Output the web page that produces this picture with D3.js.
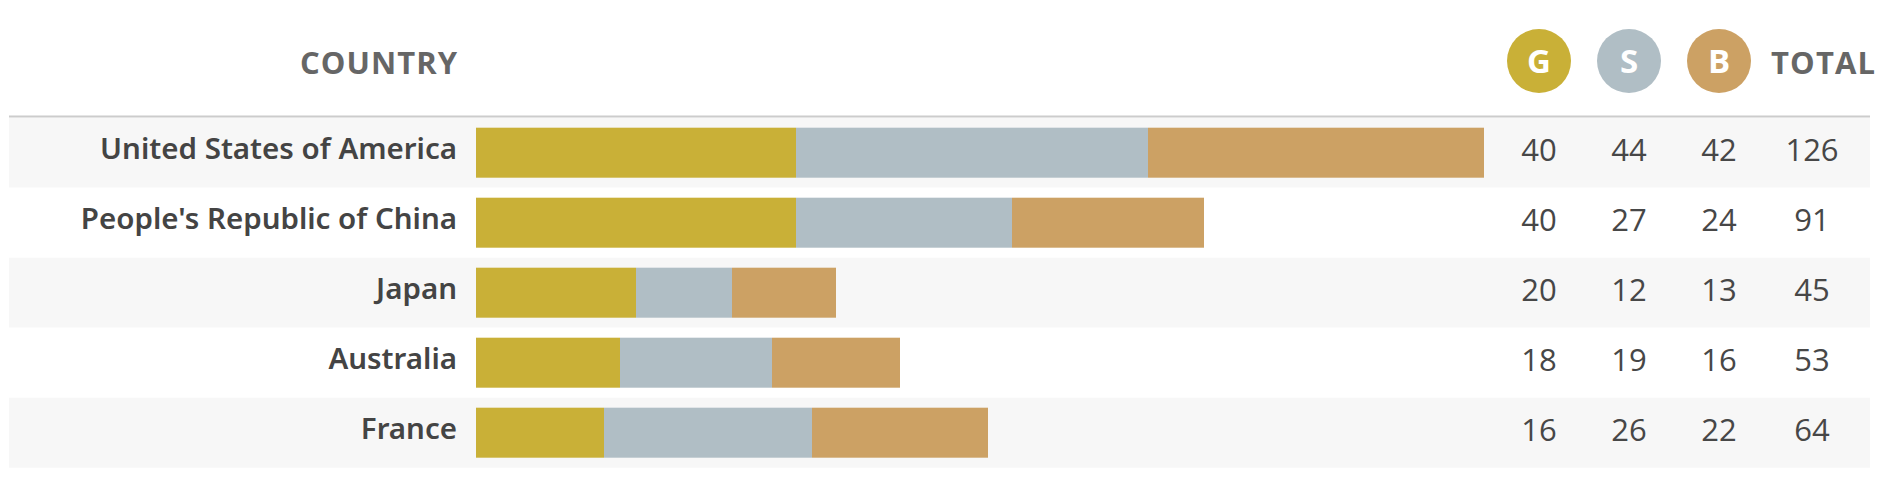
<!DOCTYPE html>
<html>
<head>
<meta charset="utf-8">
<script src="https://cdn.jsdelivr.net/npm/d3@7"></script>
<style>
  html, body { margin: 0; padding: 0; background: #ffffff; }
  svg { display: block; }
</style>
</head>
<body>
<svg id="chart" width="1880" height="478"></svg>
<script>
// ---- data ----
const countries = ["United States of America", "People's Republic of China", "Japan", "Australia", "France"];
const gold   = [40, 40, 20, 18, 16];
const silver = [44, 27, 12, 19, 26];
const bronze = [42, 24, 13, 16, 22];
const totals = [126, 91, 45, 53, 64];
const medalKeys = ["G", "S", "B"];
const countryHeader = "COUNTRY";
const totalHeader = "TOTAL";

// ---- style ----
const colors = { G: "#c9b037", S: "#b0bec5", B: "#cca164" };
const svg = d3.select("#chart");

const rows = countries.map((c, i) => ({ country: c, G: gold[i], S: silver[i], B: bronze[i], total: totals[i] }));

const y = d3.scaleBand().domain(countries).range([117.7, 467.7]).padding(0);
const x = d3.scaleLinear().domain([0, d3.max(totals)]).range([476, 1484]);
const col = d3.scalePoint().domain(medalKeys).range([1539, 1719]);
const totalX = 1812;

// row bands
svg.append("g").selectAll("rect").data(rows).join("rect")
  .attr("x", 9).attr("width", 1861)
  .attr("y", d => y(d.country)).attr("height", y.bandwidth())
  .attr("fill", (d, i) => i % 2 === 0 ? "#f7f7f7" : "#ffffff");

// header rule
svg.append("line").attr("x1", 9).attr("x2", 1870).attr("y1", 116.5).attr("y2", 116.5)
  .attr("stroke", "#cccccc").attr("stroke-width", 2);

// stacked bars
const stack = d3.stack().keys(medalKeys)(rows);
svg.append("g").selectAll("g").data(stack).join("g")
  .attr("fill", s => colors[s.key])
  .selectAll("rect").data(s => s).join("rect")
  .attr("x", d => x(d[0]))
  .attr("width", d => x(d[1]) - x(d[0]))
  .attr("y", d => y(d.data.country) + 10)
  .attr("height", y.bandwidth() - 20);

// country labels
const labels = svg.append("g").selectAll("text").data(rows).join("text")
  .attr("x", 457)
  .attr("y", d => y(d.country) + y.bandwidth() / 2 + 6)
  .attr("text-anchor", "end")
  .attr("font-family", "'Noto Sans', sans-serif")
  .attr("font-weight", 600)
  .attr("font-size", 28)
  .attr("fill", "#444444")
  .text(d => d.country);
const w0 = labels.nodes()[0].getComputedTextLength();
labels.attr("font-size", 28 * 357 / w0);

// medal numbers and totals
const numStyle = sel => sel
  .attr("text-anchor", "middle")
  .attr("font-family", "'Open Sans', sans-serif")
  .attr("font-weight", 400)
  .attr("font-size", 31)
  .attr("fill", "#474747");

medalKeys.forEach(k => {
  svg.append("g").selectAll("text").data(rows).join("text")
    .attr("x", col(k))
    .attr("y", d => y(d.country) + y.bandwidth() / 2 + 8.5)
    .call(numStyle)
    .text(d => d[k]);
});
svg.append("g").selectAll("text").data(rows).join("text")
  .attr("x", totalX)
  .attr("y", d => y(d.country) + y.bandwidth() / 2 + 8.5)
  .call(numStyle)
  .text(d => d.total);

// headers
svg.append("text")
  .attr("x", 457).attr("y", 74)
  .attr("text-anchor", "end")
  .attr("font-family", "'Open Sans', sans-serif")
  .attr("font-weight", 700).attr("font-size", 31)
  .attr("fill", "#666666")
  .attr("textLength", 157).attr("lengthAdjust", "spacing")
  .text(countryHeader);

svg.append("text")
  .attr("x", 1771).attr("y", 74)
  .attr("text-anchor", "start")
  .attr("font-family", "'Open Sans', sans-serif")
  .attr("font-weight", 700).attr("font-size", 31)
  .attr("fill", "#666666")
  .attr("textLength", 104).attr("lengthAdjust", "spacing")
  .text(totalHeader);

const badges = svg.append("g").selectAll("g").data(medalKeys).join("g")
  .attr("transform", k => `translate(${col(k)},61)`);
badges.append("circle").attr("r", 32).attr("fill", k => colors[k]);
badges.append("text")
  .attr("y", 12)
  .attr("text-anchor", "middle")
  .attr("font-family", "'Open Sans', sans-serif")
  .attr("font-weight", 700).attr("font-size", 33)
  .attr("fill", "#ffffff")
  .text(k => k);
</script>
</body>
</html>
